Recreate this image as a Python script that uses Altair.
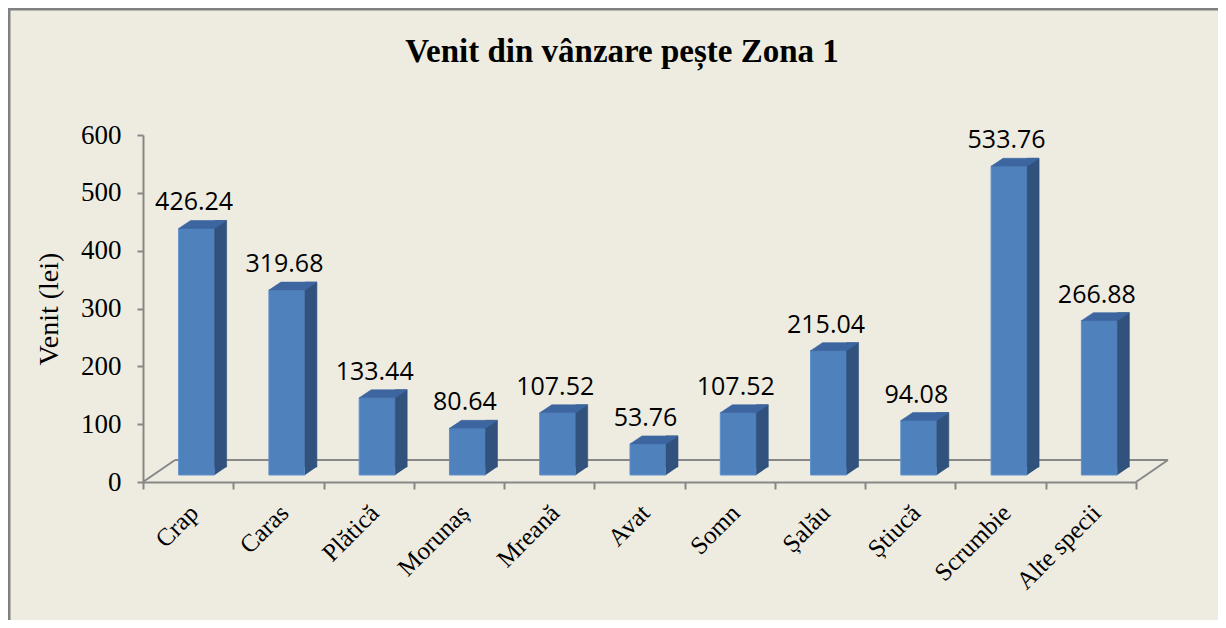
import altair as alt
import pandas as pd

categories = ["Crap", "Caras", "Plătică", "Morunaș", "Mreană", "Avat", "Somn",
              "Șalău", "Știucă", "Scrumbie", "Alte specii"]
values = [426.24, 319.68, 133.44, 80.64, 107.52, 53.76, 107.52, 215.04, 94.08, 533.76, 266.88]
y_ticks = [0, 100, 200, 300, 400, 500, 600]
title_text = "Venit din vânzare pește Zona  1"
y_title = "Venit (lei)"

df = pd.DataFrame({"cat": categories, "val": values})
one = pd.DataFrame({"t": [title_text]})

BG = "#EEECE1"
FRONT = "#4F81BD"
SIDE = "#31527C"
TOP = "#3D66A0"
GREY = "#878787"
W, H = 993, 347

x_enc = alt.X("cat:N", sort=categories,
              scale=alt.Scale(paddingInner=0, paddingOuter=0),
              axis=alt.Axis(title=None, labelAngle=-45, labelFont="Liberation Serif",
                            labelFontSize=25, labelColor="black", labelPadding=11,
                            labelOffset=-3,
                            domainColor=GREY, domainWidth=2, tickColor=GREY, tickWidth=2,
                            tickSize=7, tickBand="extent", grid=False))
y_enc = alt.Y("val:Q", scale=alt.Scale(domain=[0, 600], nice=False),
              axis=alt.Axis(title=y_title, values=y_ticks, titleFont="Liberation Serif",
                            titleFontSize=28, titleFontWeight="normal", titleColor="black",
                            titlePadding=17, labelFont="Liberation Serif", labelFontSize=27,
                            labelColor="black", labelPadding=16, domainColor=GREY,
                            domainWidth=2, tickColor=GREY, tickWidth=2, tickSize=6, grid=False))

base = alt.Chart(df)

floor_back = alt.Chart(one).mark_rule(color=GREY, strokeWidth=2).encode(
    x=alt.value(32), x2=alt.value(W + 32), y=alt.value(H - 22))
floor_left = alt.Chart(one).mark_rule(color=GREY, strokeWidth=2).encode(
    x=alt.value(0), y=alt.value(H), x2=alt.value(32), y2=alt.value(H - 22))
floor_right = alt.Chart(one).mark_rule(color=GREY, strokeWidth=2).encode(
    x=alt.value(W), y=alt.value(H), x2=alt.value(W + 32), y2=alt.value(H - 22))
frame_left = alt.Chart(one).mark_rule(color="#808080", strokeWidth=3).encode(
    x=alt.value(-134), y=alt.value(-128), y2=alt.value(H + 140))
frame_top = alt.Chart(one).mark_rule(color="#808080", strokeWidth=3).encode(
    y=alt.value(-126), x=alt.value(-136), x2=alt.value(W + 84))
title = alt.Chart(one).mark_text(font="Liberation Serif", fontSize=33, fontWeight="bold",
                                 color="black", align="center", baseline="alphabetic").encode(
    x=alt.value(479), y=alt.value(-73), text="t:N")

front = base.mark_bar(width=36, xOffset=8.5, yOffset=-7, y2Offset=-7, color=FRONT,
                      stroke="#5F8FCB", strokeWidth=1).encode(x=x_enc, y=y_enc)
side = base.mark_bar(width=12, xOffset=32.5, yOffset=-15, y2Offset=-15, color=SIDE,
                     stroke=SIDE, strokeWidth=0.6).encode(x=x_enc, y=y_enc)
bottom_tri = base.mark_point(shape="M26.5,-7 L26.5,-15.3 L38.5,-15.3 Z", size=4, filled=True,
                             opacity=1, color=SIDE, strokeWidth=0).encode(
    x=x_enc, y=alt.datum(0))
top_face = base.mark_point(shape="M-9.5,-7 L26.5,-7 L38.5,-15 L2.5,-15 Z", size=4, filled=True,
                           opacity=1, color=TOP, stroke=TOP, strokeWidth=0.6).encode(
    x=x_enc, y=y_enc)
labels = base.mark_text(font="Open Sans", fontSize=25, color="black", dx=6, dy=-33,
                        baseline="middle").encode(
    x=x_enc, y=y_enc, text=alt.Text("val:Q", format=".2f"))

chart = alt.layer(frame_left, frame_top, floor_back, floor_left, floor_right, title,
                  front, side, bottom_tri, top_face, labels).properties(
    width=W, height=H,
    autosize=alt.AutoSizeParams(type="none"),
    padding={"left": 135, "top": 127, "right": 82, "bottom": 138},
    background=BG,
).configure_view(strokeWidth=0)

chart.save("out.html", embed_options={"renderer": "svg", "actions": False})
